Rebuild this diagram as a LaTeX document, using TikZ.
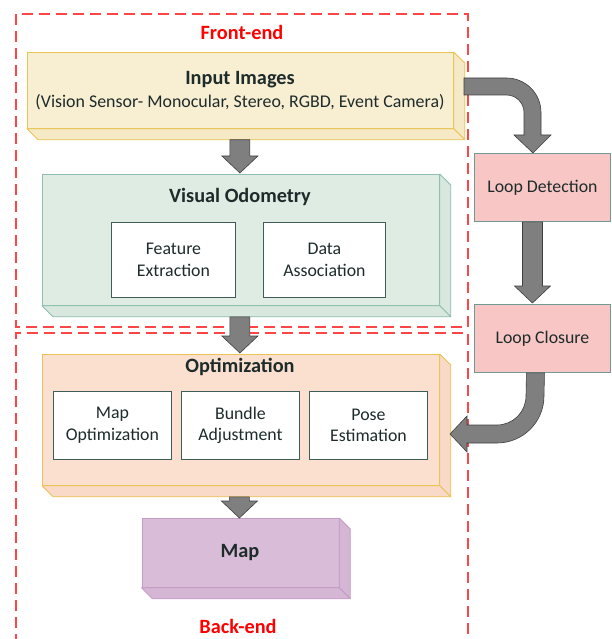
\documentclass[tikz,border=0pt]{standalone}
\usepackage{fontspec}
\setmainfont{Carlito}
\usetikzlibrary{calc}

\definecolor{inFill}{HTML}{F8EFD3}
\definecolor{inSide}{HTML}{F5E9C6}
\definecolor{inEdge}{HTML}{EBC455}
\definecolor{voFill}{HTML}{DEECE4}
\definecolor{voSide}{HTML}{D8E8DF}
\definecolor{voEdge}{HTML}{8FBFAE}
\definecolor{opFill}{HTML}{FBE0D0}
\definecolor{opSide}{HTML}{F9DAC8}
\definecolor{opEdge}{HTML}{EBC253}
\definecolor{mapFill}{HTML}{D9BDD8}
\definecolor{mapSide}{HTML}{D5B6D4}
\definecolor{mapEdge}{HTML}{C59CC5}
\definecolor{loopFill}{HTML}{F7C6C5}
\definecolor{loopEdge}{HTML}{6E9994}
\definecolor{innerEdge}{HTML}{3E5C58}
\definecolor{txt}{HTML}{1E2B2B}
\definecolor{arrowFill}{HTML}{7F7F7F}
\definecolor{arrowEdge}{HTML}{3F3F3F}
\definecolor{dashRed}{HTML}{FF4545}

% extruded right and bottom faces of a block node
\newcommand\extrude[3]{%
  \filldraw[fill=#2, draw=#3, line width=0.8pt, line join=round]
    (#1.north east) -- ++(11,11) -- ($(#1.south east)+(11,11)$) -- (#1.south east) -- cycle;
  \filldraw[fill=#2, draw=#3, line width=0.8pt, line join=round]
    (#1.south west) -- ++(11,11) -- ($(#1.south east)+(11,11)$) -- (#1.south east) -- cycle;}

% straight downward block arrow from a start coordinate to a tip coordinate
\newcommand\vblock[2]{%
  \draw[barrow] ($(#2 |- #1)+(-10,0)$) -- ($(#2)+(-10,-17)$) -- ($(#2)+(-18,-17)$)
    -- (#2) -- ($(#2)+(18,-17)$) -- ($(#2)+(10,-17)$) -- ($(#2 |- #1)+(10,0)$) -- cycle;}

\begin{document}
\begin{tikzpicture}[x=1pt,y=-1pt,
  face/.style={draw, line width=0.8pt, inner sep=0pt, anchor=north west},
  inner/.style={face, fill=white, draw=innerEdge, line width=0.9pt, text=txt,
    align=center, font=\fontsize{17.8}{21.5}\selectfont},
  loopbox/.style={face, fill=loopFill, draw=loopEdge, line width=0.9pt, text=txt,
    font=\fontsize{17.8}{20}\selectfont},
  title/.style={text=txt, font=\fontsize{20.3}{23}\selectfont\bfseries, inner sep=0pt},
  sub/.style={text=txt, font=\fontsize{17.9}{20}\selectfont, inner sep=0pt},
  region/.style={draw=dashRed, line width=1.5pt, dash pattern=on 11pt off 6pt},
  regionlabel/.style={text=red, font=\fontsize{20.3}{23}\selectfont\bfseries, inner sep=0pt},
  barrow/.style={fill=arrowFill, draw=arrowEdge, line width=0.6pt, line join=miter}]

\useasboundingbox (0,0) rectangle (611,639);

% front-end and back-end regions
\draw[region] (16,14) rectangle (468,327);
\draw[region] (16,645) -- (16,333) -- (468,333) -- (468,645);
\node[regionlabel] (fe) at (242,32) {Front-end};
\node[regionlabel] (be) at (238,626) {Back-end};

% input images
\node[face, fill=inFill, draw=inEdge, minimum width=426pt, minimum height=76pt] (in) at (27,52) {};
\extrude{in}{inSide}{inEdge}
\node[title] (intitle) at (240,80) {Input Images};
\node[sub] (insub) at (240,102) {(Vision Sensor- Monocular, Stereo, RGBD, Event Camera)};

% visual odometry
\node[face, fill=voFill, draw=voEdge, minimum width=397pt, minimum height=131pt] (vo) at (42,174) {};
\extrude{vo}{voSide}{voEdge}
\node[title] (votitle) at (240,197) {Visual Odometry};
\node[inner, minimum width=124pt, minimum height=75pt] (fx) at (111,222) {Feature\\Extraction};
\node[inner, minimum width=122pt, minimum height=75pt] (da) at (263,222) {Data\\Association};

% optimization
\node[face, fill=opFill, draw=opEdge, minimum width=397pt, minimum height=131pt] (op) at (42,354) {};
\extrude{op}{opSide}{opEdge}
\node[title] (optitle) at (240,367) {Optimization};
\node[inner, minimum width=118pt, minimum height=68pt] (mo) at (53,391) {Map\\Optimization};
\node[inner, minimum width=118pt, minimum height=68pt] (ba) at (181,391) {Bundle\\Adjustment};
\node[inner, minimum width=118pt, minimum height=68pt] (pe) at (309,391) {Pose\\Estimation};

% map
\node[face, fill=mapFill, draw=mapEdge, minimum width=197pt, minimum height=69pt] (map) at (141.5,518) {};
\extrude{map}{mapSide}{mapEdge}
\node[title] (maptitle) at (240,553) {Map};

% loop detection and closure
\node[loopbox, minimum width=136pt, minimum height=68pt] (ld) at (474,153) {Loop Detection};
\node[loopbox, minimum width=136pt, minimum height=68pt] (lc) at (474,304) {Loop Closure};

% straight block arrows
\coordinate (a1s) at ($(in.south)+(0,11)$);
\coordinate (a1t) at ($(vo.north)+(-1,-1)$);
\vblock{a1s}{a1t}
\coordinate (a2s) at ($(vo.south)+(0,11)$);
\coordinate (a2t) at ($(op.north)+(-1,-1)$);
\vblock{a2s}{a2t}
\coordinate (a3s) at ($(op.south)+(0,11)$);
\coordinate (a3t) at ($(map.north)+(-1,0)$);
\vblock{a3s}{a3t}
\coordinate (a4s) at ($(ld.south)+(-10,0)$);
\coordinate (a4t) at ($(lc.north)+(-10,-1)$);
\vblock{a4s}{a4t}

% curved arrow: input images to loop detection
\coordinate (c1s) at (464,86.5);
\coordinate (c1t) at ($(ld.north)+(-9.5,0)$);
\draw[barrow] ($(c1s)+(0,-8.5)$) -- (506.5,78) arc[start angle=-90, end angle=0, radius=34.5]
  -- (541,135) -- (551,135) -- (c1t) -- (514,135) -- (524,135) -- (524,112.5)
  arc[start angle=0, end angle=-90, radius=17.5] -- ($(c1s)+(0,8.5)$) -- cycle;

% curved arrow: loop closure to optimization
\coordinate (c2s) at ($(lc.south)+(-7,0)$);
\coordinate (c2t) at (450,434);
\draw[barrow] ($(c2s)+(-9,0)$) -- (526,396) arc[start angle=0, end angle=90, radius=29]
  -- (467,425) -- (467,416) -- (c2t) -- (467,452) -- (467,443) -- (497,443)
  arc[start angle=90, end angle=0, radius=47] -- ($(c2s)+(9,0)$) -- cycle;

\end{tikzpicture}
\end{document}
